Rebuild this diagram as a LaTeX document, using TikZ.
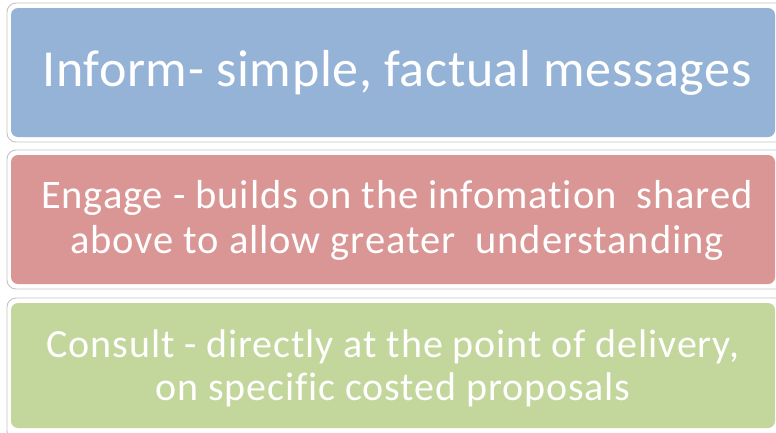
\documentclass[tikz,border=0pt]{standalone}
\usepackage{fontspec}
\setmainfont{Carlito}[Ligatures=NoCommon]
\newfontfamily\headfont{Carlito}[Ligatures=NoCommon, LetterSpace=1.2]
\newfontfamily\bodyfont{Carlito}[Ligatures=NoCommon, LetterSpace=2.2]
\definecolor{informblue}{HTML}{95B3D7}
\definecolor{engagered}{HTML}{D99694}
\definecolor{consultgreen}{HTML}{C3D69B}
\definecolor{framegrey}{HTML}{C4C4C4}
\tikzset{
  frame/.style={draw=framegrey, line width=0.9pt, fill=white, rounded corners=9pt},
  panel/.style={fill=#1, draw=none, rounded corners=7pt},
  label/.style={text=white, align=center, inner sep=0pt},
}
\begin{document}
\begin{tikzpicture}[x=1pt,y=-1pt]
  \useasboundingbox (0,0) rectangle (776,432);
  \clip (0,0) rectangle (776,432);
  \fill[white] (0,0) rectangle (776,432);

  % top panel: inform
  \draw[frame] (7,3) rectangle (790,142);
  \fill[panel=informblue] (11,8) rectangle (775,137);
  \node[label, anchor=base, font=\headfont\fontsize{52}{62}\selectfont] (inform) at (397,86.7)
    {Inform- simple, factual messages};

  % middle panel: engage (base anchor sits on the last line)
  \draw[frame] (7,150) rectangle (790,289);
  \fill[panel=engagered] (11,155) rectangle (775,284);
  \node[label, anchor=base, font=\bodyfont\fontsize{40.5}{45}\selectfont] (engage) at (397,253.3)
    {Engage - builds on the infomation\ \ shared\\above to allow greater\ \ understanding};

  % bottom panel: consult
  \draw[frame] (7,298) rectangle (790,440);
  \fill[panel=consultgreen] (11,303) rectangle (775,428);
  \node[label, anchor=base, font=\bodyfont\fontsize{40}{43.5}\selectfont] (consult) at (393,400.5)
    {Consult - directly at the point of delivery,\\on specific costed proposals};
\end{tikzpicture}
\end{document}
